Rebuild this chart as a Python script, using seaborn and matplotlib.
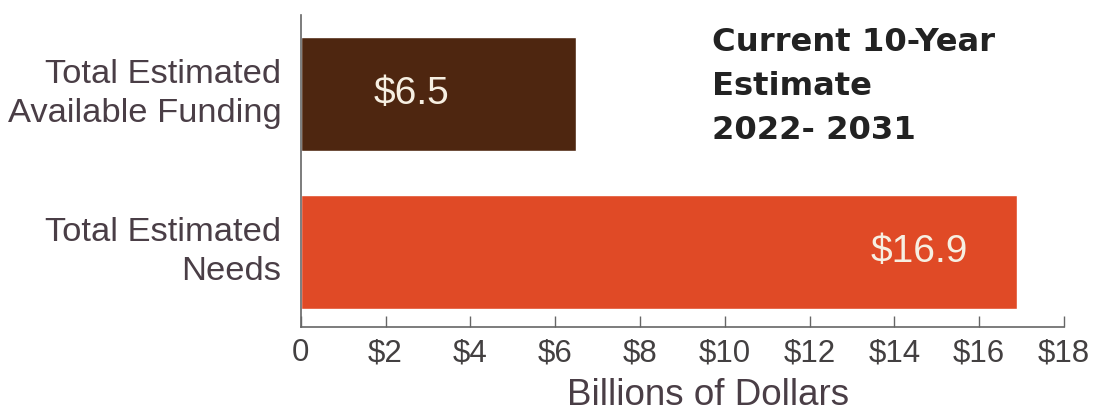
import matplotlib
matplotlib.use("Agg")
import matplotlib.pyplot as plt
import seaborn as sns
import pandas as pd

categories = ["Total Estimated\nAvailable Funding", "Total Estimated\nNeeds"]
values = [6.5, 16.9]
bar_colors = ["#4E2610", "#E04A26"]
tick_values = [0, 2, 4, 6, 8, 10, 12, 14, 16, 18]
tick_labels = ["0", "$2", "$4", "$6", "$8", "$10", "$12", "$14", "$16", "$18"]

sns.set_theme(style="white")
plt.rcParams["font.family"] = ["Liberation Sans", "DejaVu Sans"]

df = pd.DataFrame({"category": categories, "value": values})

fig = plt.figure(figsize=(10.94, 4.13), dpi=100)
ax = fig.add_axes([0.275, 0.208, 0.6975, 0.756])

sns.barplot(data=df, x="value", y="category", hue="category",
            palette=bar_colors, orient="h", width=0.72, legend=False,
            saturation=1, ax=ax)

ax.set_xlim(0, 18)
ax.set_ylim(1.475, -0.5)
ax.set_xticks(tick_values)
ax.set_xticklabels(tick_labels)

text_color = "#4A3E46"
ax.tick_params(axis="x", direction="in", length=8, width=1, color="#666666",
               labelsize=22.5, labelcolor="#434041", pad=8, bottom=True)
ax.tick_params(axis="y", length=0, labelsize=24.8, labelcolor=text_color, pad=14)
for lbl in ax.get_yticklabels():
    lbl.set_horizontalalignment("right")
    lbl.set_verticalalignment("center")
    lbl.set_linespacing(1.3)

for side in ["top", "right"]:
    ax.spines[side].set_visible(False)
for side in ["left", "bottom"]:
    ax.spines[side].set_color("#666666")
    ax.spines[side].set_linewidth(1.2)

ax.set_ylabel("")
ax.set_xlabel("Billions of Dollars", fontsize=26.5, color=text_color,
              labelpad=7, x=0.533)

# value labels inside the bars
for i, v in enumerate(values):
    xpos = v * 0.4 if i == 0 else v - 2.3
    ax.text(xpos, i, f"${v:g}", ha="center", va="center",
            fontsize=28, color="#F6EFE2")

fig.text(0.651, 0.935, "Current 10-Year\nEstimate\n2022- 2031",
         ha="left", va="top", fontsize=23.2, fontweight="bold",
         color="#222222", linespacing=1.55, family="DejaVu Sans")

fig.savefig("out.png", dpi=100)
